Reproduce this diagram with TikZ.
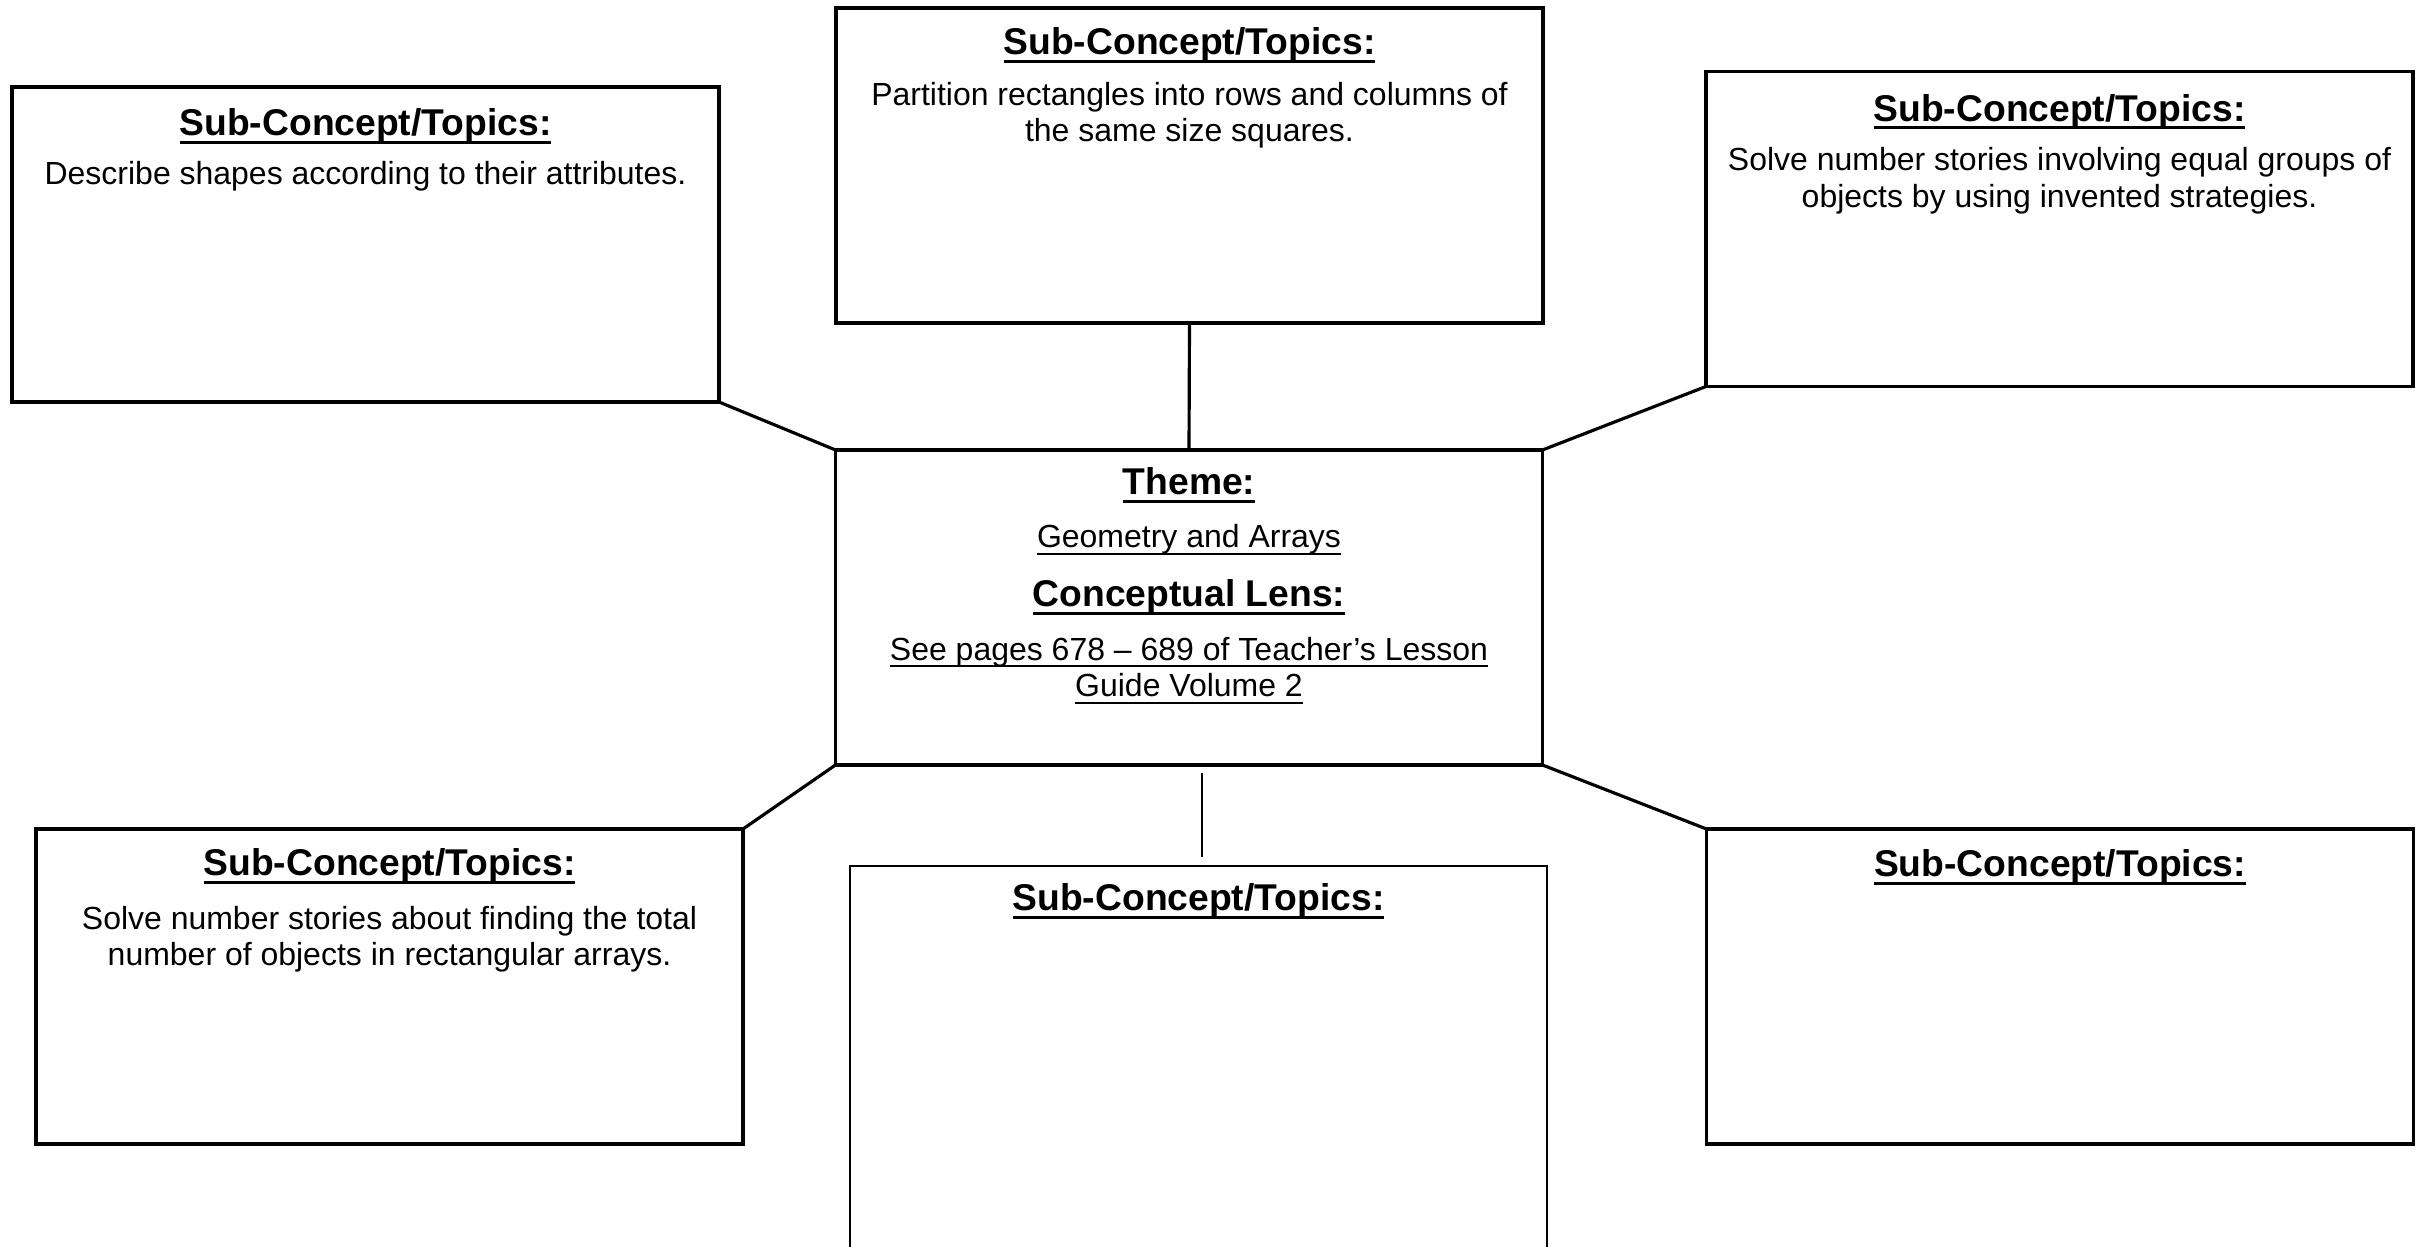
\documentclass[tikz,border=0pt]{standalone}
\usepackage{fontspec}
\setmainfont{Liberation Sans}
\usetikzlibrary{calc}
\newcommand{\bodyfnt}{\fontsize{9.1}{10.5}\selectfont}
\newcommand{\ttlfnt}{\fontsize{10.6}{12}\selectfont\bfseries}
\newsavebox{\ulbx}
\newcommand{\ttlu}[1]{\sbox{\ulbx}{#1}\leavevmode\rlap{\rule[-2.2pt]{\wd\ulbx}{0.8pt}}\usebox{\ulbx}}
\newcommand{\bodyu}[1]{\sbox{\ulbx}{#1}\leavevmode\rlap{\rule[-1.9pt]{\wd\ulbx}{0.5pt}}\usebox{\ulbx}}
\tikzset{
  subbox/.style={draw, line width=0.9pt, minimum width=70.7mm, minimum height=31.5mm, inner sep=0pt, outer sep=0pt},
  conn/.style={line width=0.9pt},
  thinconn/.style={line width=0.45pt},
  ttl/.style={font=\ttlfnt, anchor=base, inner sep=0pt},
  bodytxt/.style={font=\bodyfnt, anchor=base, align=center, inner sep=0pt}
}
\begin{document}
\begin{tikzpicture}[x=0.1mm,y=-0.1mm]
\clip (0,0) rectangle (2424,1247);
\fill[white] (0,0) rectangle (2424,1247);

% boxes
\node[subbox] (tl) at (365.5,244.5) {};
\node[subbox] (tc) at (1189.5,165.5) {};
\node[subbox] (tr) at (2059.5,229) {};
\node[subbox] (c)  at (1189,607.5) {};
\node[subbox] (bl) at (389.5,986.5) {};
\node[subbox] (br) at (2060,986.5) {};
\node[draw, line width=0.45pt, minimum width=69.7mm, minimum height=50mm, inner sep=0pt, outer sep=0pt, anchor=north west] (bc) at (850,866) {};

% connectors
\draw[conn] (tl.south east) -- (c.north west);
\draw[conn] (tc.south) -- (c.north);
\draw[conn] (tr.south west) -- (c.north east);
\draw[conn] (c.south west) -- (bl.north east);
\draw[conn] (c.south east) -- (br.north west);
\coordinate (ta) at (1202,773);
\coordinate (tb) at (1202,857);
\draw[thinconn] (ta) -- (tb);

% titles
\node[ttl] (tlt) at ($(tl.north)+(0,49)$) {\ttlu{Sub-Concept/Topics:}};
\node[ttl] (tct) at ($(tc.north)+(0,47)$) {\ttlu{Sub-Concept/Topics:}};
\node[ttl] (trt) at ($(tr.north)+(0,50)$) {\ttlu{Sub-Concept/Topics:}};
\node[ttl] (blt) at ($(bl.north)+(0,47)$) {\ttlu{Sub-Concept/Topics:}};
\node[ttl] (bct) at ($(bc.north)+(0,45)$) {\ttlu{Sub-Concept/Topics:}};
\node[ttl] (brt) at ($(br.north)+(0,48)$) {\ttlu{Sub-Concept/Topics:}};

% bodies (two-line nodes: base anchor sits on the last line)
\node[bodytxt] (tlb) at ($(tl.north)+(0,98)$) {Describe shapes according to their attributes.};
\node[bodytxt] (tcb) at ($(tc.north)+(0,134)$) {Partition rectangles into rows and columns of\\the same size squares.};
\node[bodytxt] (trb) at ($(tr.north)+(0,136)$) {Solve number stories involving equal groups of\\objects by using invented strategies.};
\node[bodytxt] (blb) at ($(bl.north)+(0,137)$) {Solve number stories about finding the total\\number of objects in rectangular arrays.};

% center
\node[ttl] (theme) at ($(c.north)+(0,45)$) {\ttlu{Theme:}};
\node[bodytxt] (geo) at ($(c.north)+(0,98)$) {\bodyu{Geometry and Arrays}};
\node[ttl] (lens) at ($(c.north)+(0,157)$) {\ttlu{Conceptual Lens:}};
\node[bodytxt] (see) at ($(c.north)+(0,247)$) {\bodyu{See pages 678 – 689 of Teacher’s Lesson}\\\bodyu{Guide Volume 2}};
\end{tikzpicture}
\end{document}
